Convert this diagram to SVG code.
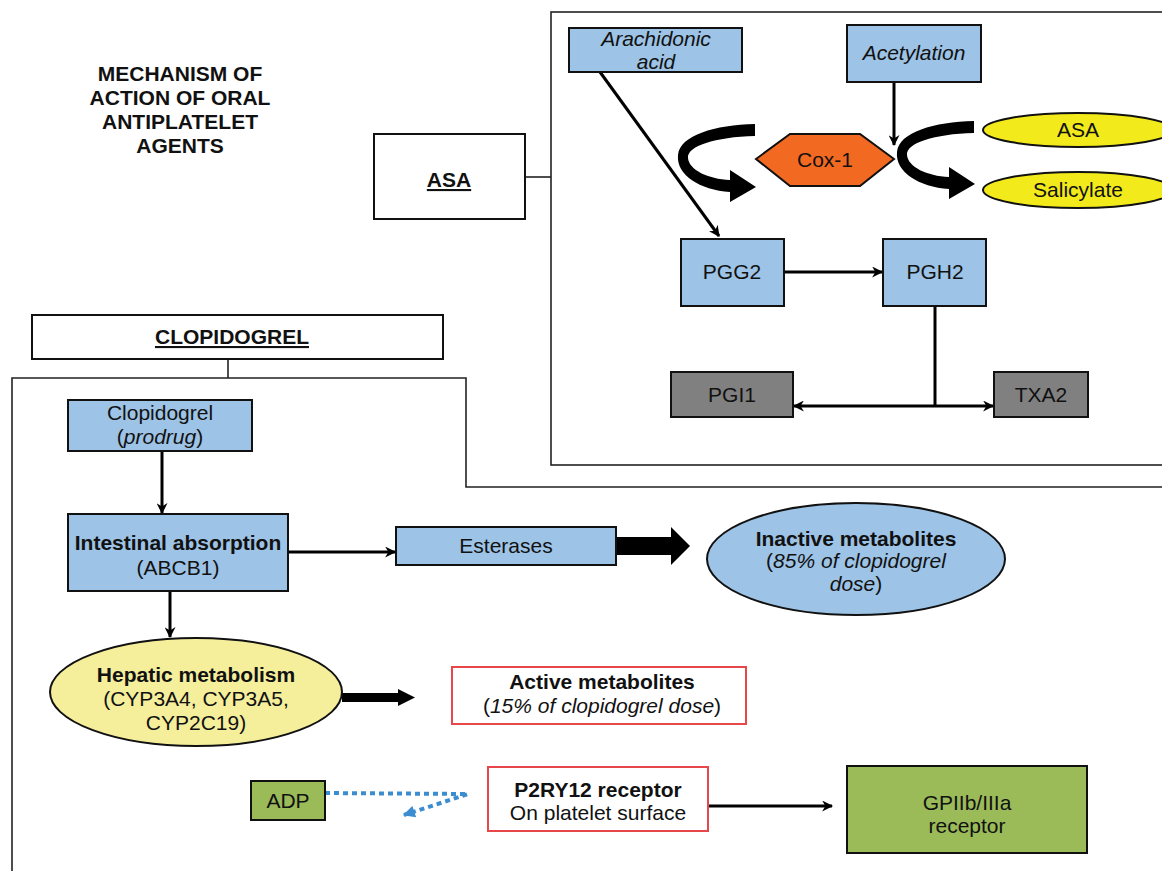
<svg xmlns="http://www.w3.org/2000/svg" width="1162" height="871" viewBox="0 0 1162 871">
<style>
text{font-family:"Liberation Sans",Arial,sans-serif;font-size:21px;fill:#111;text-anchor:middle}
.b{font-weight:bold}
.i{font-style:italic}
.u{text-decoration:underline}
.box{stroke:#111;stroke-width:2}
.blue{fill:#9DC3E6}
.gray{fill:#808080}
.green{fill:#9BBB59}
.white{fill:#fff}
.red{fill:#fff;stroke:#E8474A;stroke-width:2}
.frame{fill:none;stroke:#222;stroke-width:1.6}
.con{fill:none;stroke:#000;stroke-width:3}
</style>
<defs>
<marker id="ah" viewBox="0 0 10 10" refX="9" refY="5" markerWidth="12" markerHeight="11" markerUnits="userSpaceOnUse" orient="auto">
<path d="M0,0 L10,5 L0,10 L3,5 Z" fill="#000"/>
</marker>
<marker id="ahs" viewBox="0 0 10 10" refX="9" refY="5" markerWidth="12" markerHeight="11" markerUnits="userSpaceOnUse" orient="auto-start-reverse">
<path d="M0,0 L10,5 L0,10 L3,5 Z" fill="#000"/>
</marker>
<marker id="bh" viewBox="0 0 10 10" refX="9" refY="5" markerWidth="14" markerHeight="12" markerUnits="userSpaceOnUse" orient="auto">
<path d="M0,0 L10,5 L0,10 Z" fill="#3C8DD0"/>
</marker>
<path id="curl" d="M755,124 C715,125 680,135 678,155 C676,175 700,190 730,192 L730,202 L756,187 L730,170 L730,180 C708,179 689,170 688,158 C687,146 715,137 755,136 Z" fill="#000"/>
</defs>

<rect width="1162" height="871" fill="#fff"/>

<g id="title">
<text class="b" x="180" y="81">MECHANISM OF</text>
<text class="b" x="180" y="105">ACTION OF ORAL</text>
<text class="b" x="180" y="129">ANTIPLATELET</text>
<text class="b" x="180" y="153">AGENTS</text>
</g>

<g id="frames">
<rect class="frame" x="551" y="12" width="620" height="453"/>
<path class="frame" d="M12,871 L12,378 L466,378 L466,487 L1170,487"/>
<line class="frame" x1="525" y1="177" x2="551" y2="177"/>
<line class="frame" x1="228" y1="359" x2="228" y2="378"/>
</g>

<g id="connectors">
<line class="con" x1="600" y1="72" x2="719" y2="236" marker-end="url(#ah)"/>
<line class="con" x1="894" y1="82" x2="894" y2="145" marker-end="url(#ah)"/>
<line class="con" x1="784" y1="272" x2="882" y2="272" marker-end="url(#ah)"/>
<line class="con" x1="935" y1="306" x2="935" y2="406"/>
<line class="con" x1="794" y1="406" x2="993" y2="406" marker-start="url(#ahs)" marker-end="url(#ah)"/>
<line class="con" x1="162" y1="451" x2="162" y2="513" marker-end="url(#ah)"/>
<line class="con" x1="288" y1="552" x2="395" y2="552" marker-end="url(#ah)"/>
<line class="con" x1="170" y1="591" x2="170" y2="637" marker-end="url(#ah)"/>
<line class="con" x1="708" y1="806" x2="832" y2="806" marker-end="url(#ah)"/>
<path d="M616,537 L671,537 L671,527 L690,546 L671,565 L671,555 L616,555 Z" fill="#000"/>
<path d="M342,693 L398,693 L398,689 L415,697.5 L398,706 L398,702 L342,702 Z" fill="#000"/>
<use href="#curl"/>
<use href="#curl" transform="translate(219,-3)"/>
<polyline points="325,793 468,794 404,815" fill="none" stroke="#3C8DD0" stroke-width="4" stroke-dasharray="5,4" marker-end="url(#bh)"/>
</g>

<g id="asa-box">
<rect class="box white" x="374" y="134" width="151" height="85"/>
<text class="b u" x="449" y="187">ASA</text>
</g>

<g id="arachidonic">
<rect class="box blue" x="569" y="28" width="173" height="44"/>
<text class="i" x="656" y="46">Arachidonic</text>
<text class="i" x="656" y="69">acid</text>
</g>

<g id="acetylation">
<rect class="box blue" x="847" y="25" width="134" height="57"/>
<text class="i" x="914" y="60">Acetylation</text>
</g>

<g id="cox1">
<polygon points="756,159 790,134 860,134 894,159 860,186 790,186" fill="#F26A21" stroke="#111" stroke-width="2"/>
<text x="825" y="167">Cox-1</text>
</g>

<g id="asa-ellipse">
<ellipse cx="1078" cy="130" rx="95" ry="17" fill="#F2EA1A" stroke="#111" stroke-width="2"/>
<text x="1078" y="137">ASA</text>
</g>

<g id="salicylate">
<ellipse cx="1078" cy="190" rx="95" ry="18" fill="#F2EA1A" stroke="#111" stroke-width="2"/>
<text x="1078" y="197">Salicylate</text>
</g>

<g id="pgg2">
<rect class="box blue" x="681" y="239" width="103" height="67"/>
<text x="732" y="279">PGG2</text>
</g>

<g id="pgh2">
<rect class="box blue" x="883" y="239" width="103" height="67"/>
<text x="935" y="279">PGH2</text>
</g>

<g id="pgi1">
<rect class="box gray" x="671" y="372" width="122" height="45"/>
<text x="732" y="402">PGI1</text>
</g>

<g id="txa2">
<rect class="box gray" x="994" y="372" width="94" height="45"/>
<text x="1041" y="402">TXA2</text>
</g>

<g id="clopidogrel-box">
<rect class="box white" x="32" y="315" width="411" height="44"/>
<text class="b u" x="232" y="344">CLOPIDOGREL</text>
</g>

<g id="prodrug">
<rect class="box blue" x="68" y="400" width="184" height="51"/>
<text x="160" y="420">Clopidogrel</text>
<text x="160" y="444">(<tspan class="i">prodrug</tspan>)</text>
</g>

<g id="intestinal">
<rect class="box blue" x="68" y="514" width="220" height="77"/>
<text class="b" x="178" y="550">Intestinal absorption</text>
<text x="178" y="575">(ABCB1)</text>
</g>

<g id="esterases">
<rect class="box blue" x="396" y="527" width="220" height="38"/>
<text x="506" y="553">Esterases</text>
</g>

<g id="inactive">
<ellipse cx="856" cy="559" rx="149" ry="56" fill="#9DC3E6" stroke="#111" stroke-width="2"/>
<text class="b" x="856" y="546">Inactive metabolites</text>
<text x="856" y="568">(<tspan class="i">85% of clopidogrel</tspan></text>
<text x="856" y="591"><tspan class="i">dose</tspan>)</text>
</g>

<g id="hepatic">
<ellipse cx="196" cy="692" rx="146" ry="54" fill="#F5EF9C" stroke="#111" stroke-width="2"/>
<text class="b" x="196" y="682">Hepatic metabolism</text>
<text x="196" y="706">(CYP3A4, CYP3A5,</text>
<text x="196" y="730">CYP2C19)</text>
</g>

<g id="active">
<rect class="red" x="452" y="667" width="294" height="57"/>
<text class="b" x="602" y="689">Active metabolites</text>
<text x="602" y="713">(<tspan class="i">15% of clopidogrel dose</tspan>)</text>
</g>

<g id="adp">
<rect class="box green" x="251" y="781" width="74" height="39"/>
<text x="288" y="808">ADP</text>
</g>

<g id="p2ry12">
<rect class="red" x="488" y="767" width="220" height="64"/>
<text class="b" x="598" y="797">P2RY12 receptor</text>
<text x="598" y="820">On platelet surface</text>
</g>

<g id="gpiib">
<rect class="box green" x="847" y="766" width="240" height="87"/>
<text x="967" y="810">GPIIb/IIIa</text>
<text x="967" y="833">receptor</text>
</g>
</svg>
